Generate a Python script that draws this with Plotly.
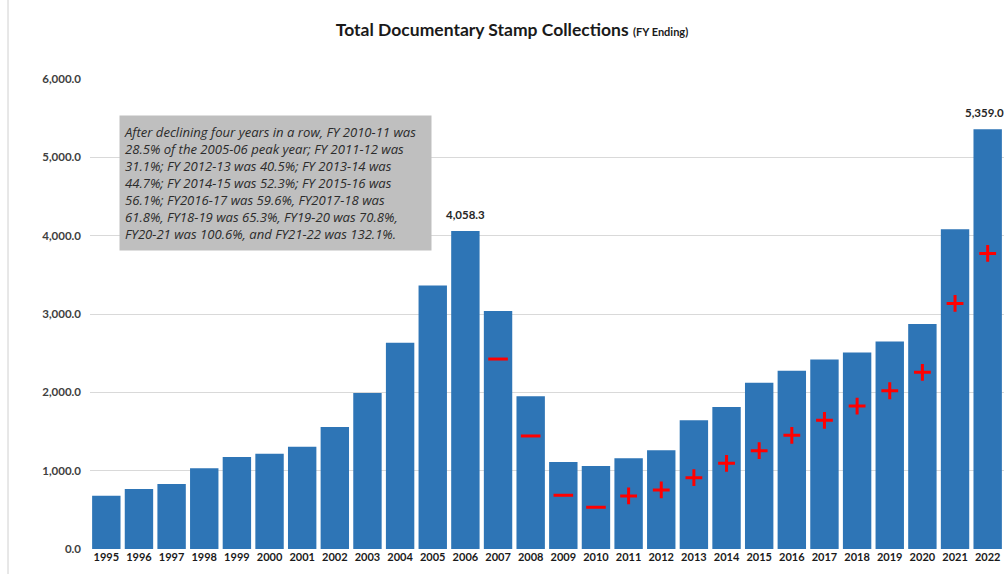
import plotly.graph_objects as go

years = [str(y) for y in range(1995, 2023)]
collections = [680, 767, 830, 1030, 1175, 1217, 1306, 1557, 1991, 2633, 3365, 4058.3,
               3037, 1950, 1111, 1060, 1157, 1262, 1644, 1814, 2122, 2277, 2419, 2508,
               2650, 2873, 4083, 5359.0]
label_years = ["2006", "2022"]

decline_years = ["2007", "2008", "2009", "2010"]
decline_vals = [2425, 1443, 686, 533]
increase_years = ["2011", "2012", "2013", "2014", "2015", "2016", "2017", "2018",
                  "2019", "2020", "2021", "2022"]
increase_vals = [677, 754, 911, 1094, 1255, 1451, 1643, 1825, 2020, 2255, 3135, 3773]

y_ticks = [0, 1000, 2000, 3000, 4000, 5000, 6000]

note = ("After declining four years in a row, FY 2010-11 was<br>"
        "28.5% of the 2005-06 peak year; FY 2011-12 was<br>"
        "31.1%; FY 2012-13 was 40.5%; FY 2013-14 was<br>"
        "44.7%; FY 2014-15 was 52.3%; FY 2015-16 was<br>"
        "56.1%; FY2016-17 was 59.6%, FY2017-18 was<br>"
        "61.8%, FY18-19 was 65.3%, FY19-20 was 70.8%,<br>"
        "FY20-21 was 100.6%, and FY21-22 was 132.1%.")

FONT = "Lato"
W, H = 1005, 574
ML, MR, MT, MB = 90, 1, 79, 25
pw, ph = W - ML - MR, H - MT - MB

fig = go.Figure()
fig.add_trace(go.Bar(
    x=years, y=collections, marker=dict(color="#2E75B6", line=dict(width=0)),
    hoverinfo="x+y", showlegend=False))
fig.add_trace(go.Scatter(
    x=decline_years, y=decline_vals, mode="markers",
    marker=dict(symbol="line-ew", size=14, line=dict(color="#FF0000", width=3)),
    showlegend=False))
fig.add_trace(go.Scatter(
    x=increase_years, y=increase_vals, mode="markers",
    marker=dict(symbol="cross-thin", size=12, line=dict(color="#FF0000", width=3)),
    showlegend=False))

for i, (yr, v) in enumerate(zip(years, collections)):
    if yr in label_years:
        fig.add_annotation(
            x=i, y=v, xref="x", yref="y", text=f"<b>{v:,.1f}</b>", showarrow=False,
            yanchor="bottom", xanchor="center", yshift=8,
            xshift=-3 if i == len(years) - 1 else 0,
            font=dict(family=FONT, size=11.5, color="#262626"))

fig.update_layout(
    width=W, height=H, margin=dict(l=ML, r=MR, t=MT, b=MB),
    paper_bgcolor="white", plot_bgcolor="white", bargap=0.13,
    font=dict(family=FONT, color="#262626"),
    title=dict(
        text="<b>Total Documentary Stamp Collections</b> <b><span style='font-size:11px'>(FY Ending)</span></b>",
        x=512 / W, xref="container", xanchor="center", y=1 - 30 / H, yref="container",
        yanchor="middle", font=dict(family=FONT, size=17.5, color="#1a1a1a")),
    xaxis=dict(type="category", range=[-0.5, len(years) - 0.5], showgrid=False,
               showline=False, ticks="",
               tickfont=dict(family=FONT, size=11, color="#1a1a1a", weight="bold")),
    yaxis=dict(range=[0, 6000], tickvals=y_ticks, tickformat=",.1f", showgrid=True,
               gridcolor="#D9D9D9", gridwidth=1, zeroline=False, showline=False,
               ticks="", ticklabelstandoff=8,
               tickfont=dict(family=FONT, size=11.5, color="#404040", weight="bold")),
)

fig.add_annotation(
    xref="paper", yref="paper", x=(119 - ML) / pw, y=(H - MB - 115) / ph,
    xanchor="left", yanchor="top", text=note, showarrow=False, align="left",
    width=303, height=126, bgcolor="#BFBFBF", borderpad=4, valign="middle",
    font=dict(family="Open Sans", size=13.1, color="#2b2b2b", style="italic"))

fig.add_shape(type="line", xref="paper", yref="paper",
              x0=(8 - ML) / pw, x1=(8 - ML) / pw, y0=-MB / ph, y1=(H - MB) / ph,
              line=dict(color="#D0D0D0", width=1))

fig.write_html("out.html")
